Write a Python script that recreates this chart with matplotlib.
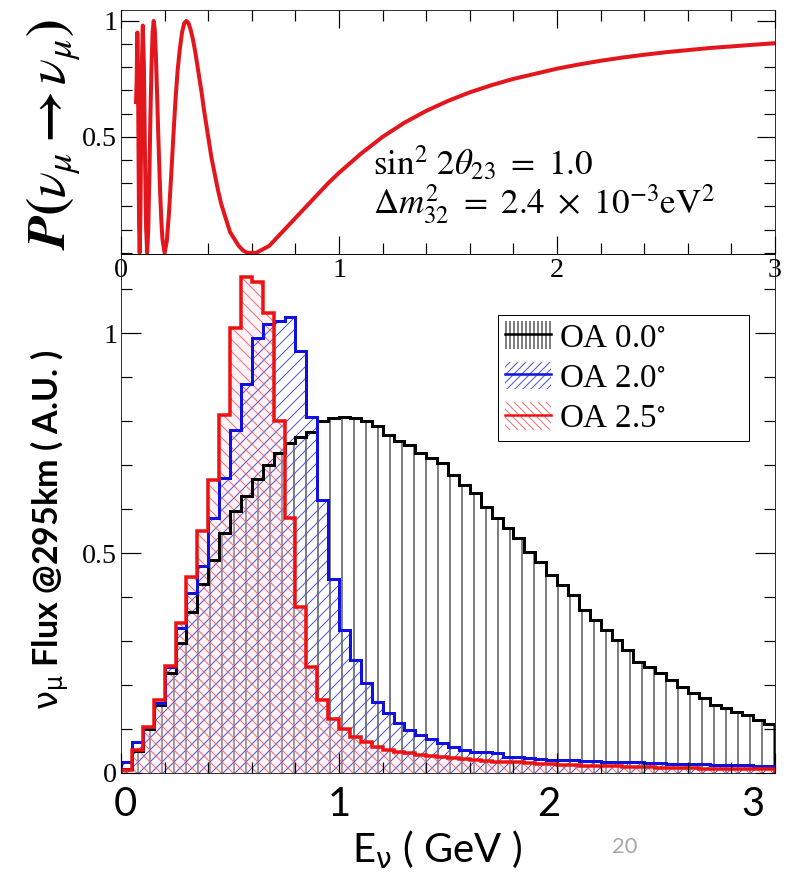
import numpy as np
import matplotlib
matplotlib.use("Agg")
import matplotlib.pyplot as plt
import matplotlib.transforms as mtransforms
from matplotlib.patches import Patch
from matplotlib.lines import Line2D
from matplotlib.ticker import MultipleLocator

plt.rcParams['font.family'] = ['Liberation Serif', 'DejaVu Serif']
plt.rcParams['mathtext.fontset'] = 'stix'
plt.rcParams['hatch.linewidth'] = 1.0

# numu survival probability
e_prob = [0.069, 0.072, 0.075, 0.078, 0.081, 0.083, 0.0857, 0.089, 0.092, 0.095,
          0.100, 0.105, 0.110, 0.115, 0.120, 0.125, 0.130, 0.135, 0.140, 0.145,
          0.150, 0.155, 0.160, 0.165, 0.170, 0.175, 0.180, 0.185, 0.190, 0.200,
          0.210, 0.220, 0.230, 0.240, 0.250, 0.260, 0.270, 0.280, 0.290, 0.300,
          0.310, 0.320, 0.330, 0.340, 0.350, 0.360, 0.370, 0.380, 0.390, 0.400,
          0.415, 0.430, 0.445, 0.460, 0.480, 0.500, 0.520, 0.540, 0.560, 0.580,
          0.600, 0.620, 0.640, 0.660, 0.680, 0.700, 0.720, 0.750, 0.800, 0.850,
          0.900, 0.950, 1.000, 1.100, 1.200, 1.300, 1.400, 1.500, 1.600, 1.700,
          1.800, 1.900, 2.000, 2.100, 2.200, 2.300, 2.400, 2.500, 2.600, 2.700,
          2.800, 2.900, 3.000]
p_surv = [0.65, 0.75, 0.95, 0.78, 0.35, 0.12, 0.00, 0.16, 0.47, 0.78,
          0.98, 0.81, 0.42, 0.11, 0.00, 0.10, 0.33, 0.59, 0.81, 0.95,
          1.00, 0.96, 0.85, 0.70, 0.54, 0.39, 0.25, 0.14, 0.06, 0.00,
          0.05, 0.17, 0.33, 0.50, 0.66, 0.79, 0.88, 0.95, 0.99, 1.00,
          0.99, 0.96, 0.92, 0.87, 0.81, 0.75, 0.69, 0.62, 0.56, 0.50,
          0.41, 0.34, 0.27, 0.21, 0.15, 0.09, 0.06, 0.03, 0.01, 0.00,
          0.00, 0.00, 0.01, 0.02, 0.03, 0.05, 0.07, 0.10, 0.15, 0.20,
          0.25, 0.30, 0.345, 0.427, 0.500, 0.561, 0.612, 0.655, 0.692, 0.723,
          0.750, 0.772, 0.794, 0.812, 0.828, 0.842, 0.854, 0.865, 0.874, 0.883,
          0.890, 0.897, 0.904]

# flux histograms, 0.05 GeV bins from 0 to 3 GeV
bin_edges = np.linspace(0.0, 3.0, 61)
flux_oa00 = [0.010, 0.050, 0.100, 0.155, 0.227, 0.295, 0.365, 0.430, 0.484, 0.545,
             0.595, 0.630, 0.668, 0.700, 0.728, 0.750, 0.765, 0.775, 0.800, 0.807,
             0.810, 0.807, 0.800, 0.790, 0.768, 0.755, 0.745, 0.727, 0.716, 0.705,
             0.677, 0.655, 0.636, 0.605, 0.580, 0.557, 0.534, 0.502, 0.480, 0.450,
             0.427, 0.405, 0.370, 0.348, 0.325, 0.302, 0.280, 0.252, 0.241, 0.227,
             0.211, 0.196, 0.181, 0.170, 0.155, 0.148, 0.139, 0.131, 0.120, 0.111]
flux_oa20 = [0.025, 0.070, 0.105, 0.160, 0.240, 0.330, 0.410, 0.470, 0.580, 0.670,
             0.780, 0.885, 0.990, 1.020, 1.028, 1.036, 0.960, 0.810, 0.620, 0.440,
             0.325, 0.257, 0.204, 0.162, 0.136, 0.114, 0.098, 0.086, 0.077, 0.068,
             0.060, 0.052, 0.048, 0.048, 0.045, 0.037, 0.037, 0.034, 0.032, 0.030,
             0.030, 0.029, 0.028, 0.027, 0.026, 0.025, 0.025, 0.024, 0.023, 0.022,
             0.021, 0.021, 0.020, 0.020, 0.019, 0.019, 0.018, 0.018, 0.017, 0.017]
flux_oa25 = [0.007, 0.052, 0.105, 0.166, 0.243, 0.340, 0.445, 0.550, 0.666, 0.815,
             1.012, 1.127, 1.116, 1.045, 0.800, 0.580, 0.377, 0.240, 0.165, 0.123,
             0.100, 0.082, 0.070, 0.060, 0.053, 0.048, 0.045, 0.042, 0.039, 0.036,
             0.034, 0.032, 0.030, 0.028, 0.026, 0.025, 0.024, 0.022, 0.021, 0.020,
             0.019, 0.018, 0.017, 0.016, 0.015, 0.015, 0.014, 0.013, 0.013, 0.012,
             0.012, 0.011, 0.011, 0.010, 0.010, 0.009, 0.009, 0.009, 0.008, 0.008]
labels = ['OA 0.0$^{\\circ}$', 'OA 2.0$^{\\circ}$', 'OA 2.5$^{\\circ}$']
xtick_text = ['0', '1', '2', '3']
xtick_text_pos = [0.02, 1.0, 1.96, 2.9]

W, H = 786, 873
fig = plt.figure(figsize=(W / 72, H / 72), dpi=72)
ax1 = fig.add_axes([121 / W, 1 - 254 / H, 654 / W, 244 / H])
ax2 = fig.add_axes([121 / W, 1 - 773 / H, 654 / W, 519 / H])
ax2.set_facecolor('none')

# ---- top: oscillation probability
ax1.plot(e_prob, p_surv, color='#e3161d', lw=4, solid_joinstyle='round')
ax1.set_xlim(0, 3)
ax1.set_ylim(-0.005, 1.047)
ax1.set_xticks([0, 1, 2, 3])
ax1.set_yticks([0.5, 1])
ax1.set_yticklabels(['0.5', '1'])
ax1.xaxis.set_minor_locator(MultipleLocator(0.2))
ax1.yaxis.set_minor_locator(MultipleLocator(0.1))
ax1.tick_params(which='both', direction='in', top=True, right=True, labelsize=28, width=1.2)
ax1.tick_params(which='major', length=18, pad=4)
ax1.tick_params(which='minor', length=11)
ax1.text(0.386, 0.324, r'$\sin^2\,2\theta_{23}\ =\ 1.0$', transform=ax1.transAxes,
         fontsize=35, va='baseline')
ax1.text(0.386, 0.163, r'$\Delta m^2_{32}\ =\ 2.4\ \times\ 10^{-3}\mathrm{eV}^2$',
         transform=ax1.transAxes, fontsize=35, va='baseline')

# ---- bottom: flux histograms
ax2.stairs(flux_oa00, bin_edges, fill=True, facecolor='none', edgecolor='black',
           hatch='|', lw=0)
ax2.stairs(flux_oa25, bin_edges, fill=True, facecolor=(1.0, 0.85, 0.9, 0.3), lw=0)
ax2.stairs(flux_oa20, bin_edges, fill=True, facecolor='none', edgecolor='#4a58c8',
           hatch='//', lw=0)
ax2.stairs(flux_oa25, bin_edges, fill=True, facecolor='none', edgecolor='#e8707e',
           hatch='\\\\', lw=0)
ax2.stairs(flux_oa00, bin_edges, color='black', lw=3)
ax2.stairs(flux_oa20, bin_edges, color='#1010e0', lw=3)
ax2.stairs(flux_oa25, bin_edges, color='#ee1111', lw=3.5)

ax2.set_xlim(0, 3)
ax2.set_ylim(0, 1.18)
ax2.set_xticks([0, 1, 2, 3])
ax2.set_xticklabels([])
ax2.set_yticks([0, 0.5, 1])
ax2.set_yticklabels(['0', '0.5', '1'])
ax2.xaxis.set_minor_locator(MultipleLocator(0.2))
ax2.yaxis.set_minor_locator(MultipleLocator(0.1))
ax2.tick_params(which='both', direction='in', top=False, right=True, labelsize=28, width=1.2)
ax2.tick_params(which='major', length=20, pad=4)
ax2.tick_params(which='minor', length=11)
for s in ax2.spines.values():
    s.set_zorder(5)

trans = mtransforms.blended_transform_factory(ax2.transData, ax2.transAxes)
for p, t in zip(xtick_text_pos, xtick_text):
    ax2.text(p, -0.025, t, transform=trans, ha='center', va='top',
             fontsize=40, family='Lato')

handles = [
    (Patch(facecolor='none', edgecolor='black', hatch='|||', lw=0),
     Line2D([], [], color='black', lw=2.5)),
    (Patch(facecolor='none', edgecolor='#4a58c8', hatch='///', lw=0),
     Line2D([], [], color='#1010e0', lw=2.5)),
    (Patch(facecolor='none', edgecolor='#e8707e', hatch='\\\\\\', lw=0),
     Line2D([], [], color='#ee1111', lw=2.5)),
]
leg = ax2.legend(handles, labels, loc='upper left',
                 bbox_to_anchor=(0.5765, 0.6127, 0.3838, 0.27), mode='expand',
                 borderaxespad=0, fontsize=33, fancybox=False, framealpha=1,
                 edgecolor='black', handlelength=1.4, handleheight=0.9,
                 handletextpad=0.25, labelspacing=0.25, borderpad=0.2)
leg.get_frame().set_linewidth(1.0)

fig.text(54 / W, 1 - 135 / H,
         r'$\boldsymbol{P(\nu_{\mu} \rightarrow \nu_{\mu})}$',
         rotation=90, ha='center', va='center', fontsize=54)
fig.text(50 / W, 1 - 530 / H, r'$\mathrm{\nu_{\mu}}$ Flux @295km ( A.U. )',
         rotation=90, ha='center', va='center', fontsize=34, family='Lato',
         weight='bold', math_fontfamily='dejavusans')
fig.text(437 / W, 1 - 850 / H, r'E$_{\mathrm{\nu}}$ ( GeV )', ha='center', va='center',
         fontsize=40, family='Lato', math_fontfamily='dejavusans')
fig.text(625 / W, 1 - 847 / H, '20', ha='center', va='center', fontsize=22,
         family='Lato', color='#a6a6a6')

fig.savefig('out.png', dpi=72)
